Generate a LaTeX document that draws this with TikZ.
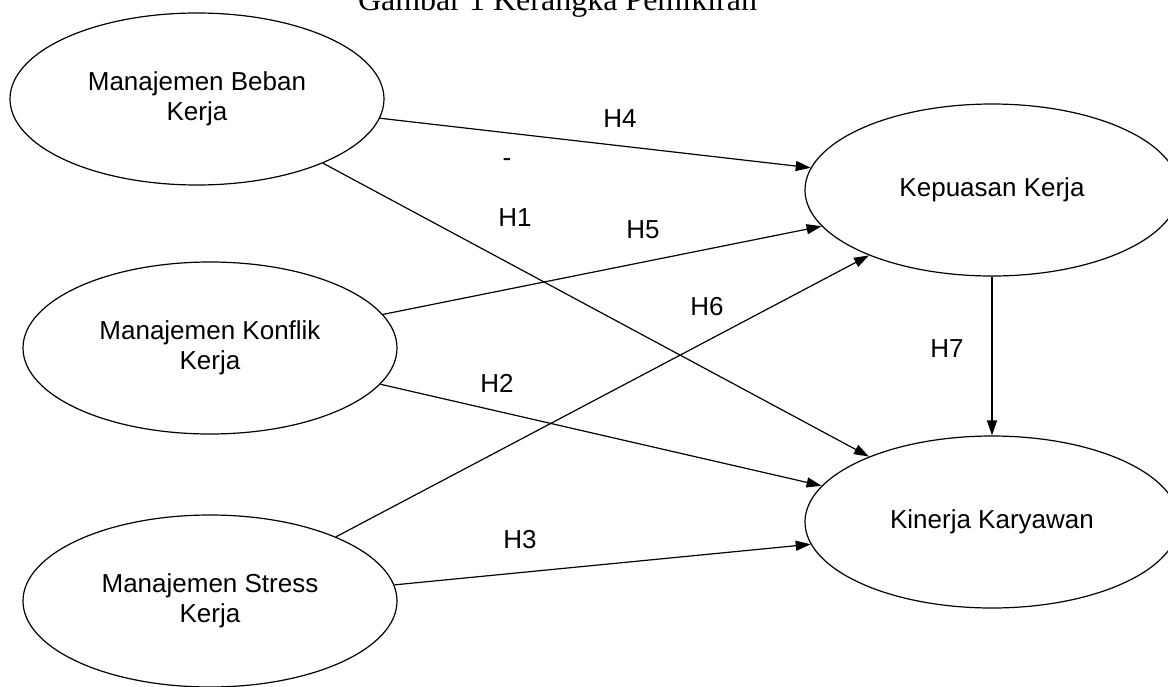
\documentclass[tikz,border=0pt]{standalone}
\usepackage{fontspec}
\setmainfont{Liberation Sans}
\newfontfamily\titlefont{Liberation Serif}
\usetikzlibrary{shapes.geometric,arrows.meta}
\tikzset{
  ell/.style={ellipse, draw, line width=1.2pt, minimum width=374pt, minimum height=172pt,
    inner sep=0pt, align=center, font=\fontsize{26}{30}\selectfont},
  conn/.style={line width=1.2pt, -{Triangle[length=15pt,width=10pt]}},
  lab/.style={inner sep=0pt, font=\fontsize{26}{30}\selectfont}
}
\begin{document}
\begin{tikzpicture}[x=1pt,y=-1pt]
\useasboundingbox[fill=white] (0,0) rectangle (1168,686);
\node[anchor=base, inner sep=0pt, font=\titlefont\fontsize{32}{36}\selectfont] (title) at (557.5,10) {Gambar 1 Kerangka Pemikiran};

\node[ell] (beban) at (197,99) {Manajemen Beban\\Kerja};
\node[ell] (kon) at (210,348) {Manajemen Konflik\\Kerja};
\node[ell] (str) at (210,601) {Manajemen Stress\\Kerja};
\node[ell] (kep) at (992,190) {Kepuasan Kerja};
\node[ell] (kin) at (992,522) {Kinerja Karyawan};

\draw[conn] (beban.-6.9) -- (kep.173.8);
\draw[conn] (beban.-27.7) -- (kin.152.2);
\draw[conn] (kon.11.8) -- (kep.-168.4);
\draw[conn] (kon.-12.8) -- (kin.168.1);
\draw[conn] (str.27.3) -- (kep.-152);
\draw[conn] (str.5.6) -- (kin.-173.8);
\draw[conn] (kep.south) -- (kin.north);

\node[lab] (h4) at (620,119) {H4};
\node[lab] (minus) at (507,163) {-};
\node[lab] (h1) at (515,218) {H1};
\node[lab] (h5) at (643,230) {H5};
\node[lab] (h6) at (707,307) {H6};
\node[lab] (h2) at (497,383) {H2};
\node[lab] (h3) at (520,540) {H3};
\node[lab] (h7) at (947,349) {H7};
\end{tikzpicture}
\end{document}
